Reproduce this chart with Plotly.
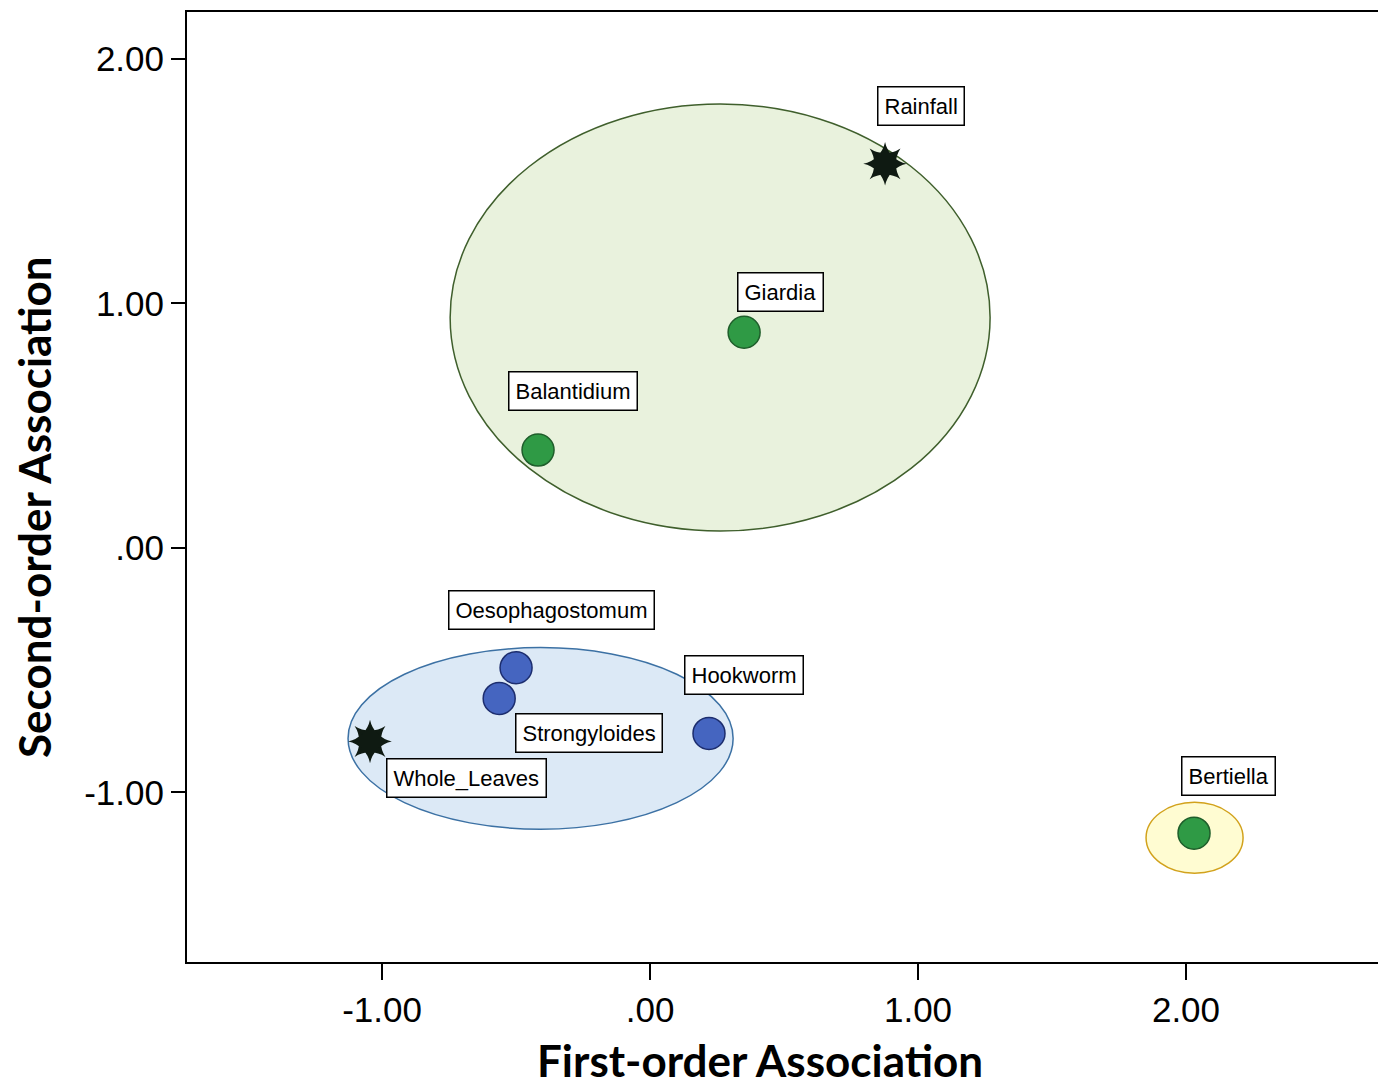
import plotly.graph_objects as go

# ---- data ----
circle_names = ["Giardia", "Balantidium", "Oesophagostomum", "Strongyloides", "Hookworm", "Bertiella"]
circle_x = [0.351, -0.418, -0.50, -0.563, 0.220, 2.030]
circle_y = [0.882, 0.400, -0.490, -0.616, -0.759, -1.167]
circle_group = ["green", "green", "blue", "blue", "blue", "green"]

star_names = ["Rainfall", "Whole_Leaves"]
star_x = [0.877, -1.045]
star_y = [1.571, -0.792]

# ellipses: (x0, x1, y0, y1)
ellipse_names = ["cluster1", "cluster2", "cluster3"]
ellipse_x0 = [-0.746, -1.127, 1.851]
ellipse_x1 = [1.269, 0.310, 2.213]
ellipse_y0 = [0.069, -1.151, -1.331]
ellipse_y1 = [1.816, -0.408, -1.041]

tick_vals_x = [-1, 0, 1, 2]
tick_text_x = ["-1.00", ".00", "1.00", "2.00"]
tick_vals_y = [-1, 0, 1, 2]
tick_text_y = ["-1.00", ".00", "1.00", "2.00"]

# ---- style ----
ellipse_fill = ["#e9f2dd", "#dce9f6", "#fffcd2"]
ellipse_line = ["#3f5f2c", "#3c71a4", "#d2a21c"]
point_fill = {"green": "#2f9a45", "blue": "#4565c0"}
point_edge = {"green": "#1f5e2b", "blue": "#1c2d6e"}

# label pixel offsets (xshift, yshift) for each label
label_offsets = {
    "Rainfall": (36, 58),
    "Giardia": (36, 40),
    "Balantidium": (35, 59),
    "Oesophagostomum": (35, 58),
    "Strongyloides": (90, -35),
    "Hookworm": (35, 58),
    "Whole_Leaves": (96, -37),
    "Bertiella": (34, 57),
}

# page body has 8px margin; compensate so plot area lands at page (187,10)-(1380,962)
W, H = 1378, 1079
L, T = 179, 2
PR, PB = 1372, 954
R, B = W - PR, H - PB

fig = go.Figure()

for i in range(len(ellipse_names)):
    fig.add_shape(type="circle", xref="x", yref="y",
                  x0=ellipse_x0[i], x1=ellipse_x1[i], y0=ellipse_y0[i], y1=ellipse_y1[i],
                  fillcolor=ellipse_fill[i], line=dict(color=ellipse_line[i], width=1.5),
                  layer="below")

fig.add_trace(go.Scatter(
    x=circle_x, y=circle_y, mode="markers",
    marker=dict(size=32, color=[point_fill[g] for g in circle_group],
                line=dict(color=[point_edge[g] for g in circle_group], width=1.5)),
    showlegend=False, hoverinfo="skip"))

for ang in [0, 45]:
    fig.add_trace(go.Scatter(
        x=star_x, y=star_y, mode="markers",
        marker=dict(symbol="star-square", size=28, angle=ang, color="#0f1a12",
                    line=dict(color="#0f1a12", width=0)),
        showlegend=False, hoverinfo="skip"))

all_names = circle_names + star_names
all_x = circle_x + star_x
all_y = circle_y + star_y
for n, xv, yv in zip(all_names, all_x, all_y):
    dx, dy = label_offsets[n]
    fig.add_annotation(x=xv, y=yv, text=n, showarrow=False,
                       xshift=dx, yshift=dy,
                       font=dict(family="Liberation Sans, Arial", size=22, color="black"),
                       bgcolor="white", bordercolor="black", borderwidth=1.5, borderpad=6)

title_font = dict(family="Lato, Open Sans", size=44, color="black")
fig.add_annotation(xref="paper", yref="paper", x=(752 - L) / (PR - L), y=0,
                   yshift=-98, xanchor="center", yanchor="middle", showarrow=False,
                   text="<b>First-order Association</b>", font=title_font)
fig.add_annotation(xref="paper", yref="paper", x=0, y=(PB - 499) / (PB - T),
                   xshift=-153, xanchor="center", yanchor="middle", showarrow=False,
                   textangle=-90, text="<b>Second-order Association</b>", font=title_font)

fig.update_layout(
    width=W, height=H,
    margin=dict(l=L, r=R, t=T, b=B),
    paper_bgcolor="white", plot_bgcolor="white",
    xaxis=dict(range=[-1.728, 2.724], tickvals=tick_vals_x, ticktext=tick_text_x,
               showgrid=False, zeroline=False, ticks="outside", ticklen=16, tickwidth=2,
               tickcolor="black", showline=True, linecolor="black", linewidth=2, mirror=True,
               tickfont=dict(family="Liberation Sans, Arial", size=35, color="black")),
    yaxis=dict(range=[-1.694, 2.192], tickvals=tick_vals_y, ticktext=tick_text_y,
               showgrid=False, zeroline=False, ticks="outside", ticklen=14, tickwidth=2,
               tickcolor="black", showline=True, linecolor="black", linewidth=2, mirror=True,
               tickfont=dict(family="Liberation Sans, Arial", size=35, color="black")),
)

fig.write_html("out.html")
